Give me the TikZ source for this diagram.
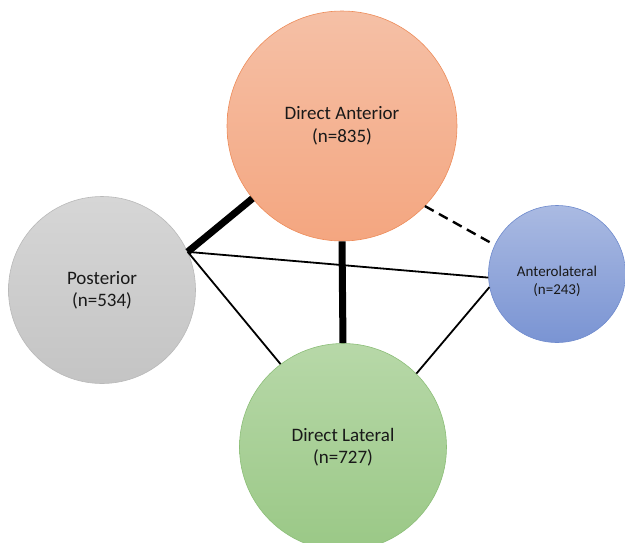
\documentclass[tikz,border=0pt]{standalone}
\usepackage{fontspec}
\setmainfont{Carlito}
\definecolor{antTop}{RGB}{245,192,166}
\definecolor{antBot}{RGB}{244,166,128}
\definecolor{antLine}{RGB}{237,140,90}
\definecolor{postTop}{RGB}{214,214,214}
\definecolor{postBot}{RGB}{196,196,196}
\definecolor{postLine}{RGB}{185,185,185}
\definecolor{alTop}{RGB}{170,186,226}
\definecolor{alBot}{RGB}{122,148,211}
\definecolor{alLine}{RGB}{110,138,205}
\definecolor{latTop}{RGB}{183,216,168}
\definecolor{latBot}{RGB}{154,200,134}
\definecolor{latLine}{RGB}{140,190,120}
\tikzset{
  bubble/.style={circle, inner sep=0pt, align=center, text=black!90, line width=0.6pt},
  thickedge/.style={line width=7pt, black},
  thinedge/.style={line width=1.8pt, black},
  dashedge/.style={line width=2.4pt, black, dashed, dash pattern=on 10pt off 6pt}
}
\begin{document}
\begin{tikzpicture}[x=1pt,y=-1pt]
\useasboundingbox (0,0) rectangle (625,542);
\clip (0,0) rectangle (625,542);
\node[bubble, minimum size=230pt, draw=antLine, top color=antTop, bottom color=antBot, font=\fontsize{19}{23}\selectfont] (ant) at (342,126) {Direct Anterior\\(n=835)};
\node[bubble, minimum size=187pt, draw=postLine, top color=postTop, bottom color=postBot, font=\fontsize{19}{22}\selectfont] (post) at (102,290) {Posterior\\(n=534)};
\node[bubble, minimum size=137pt, draw=alLine, top color=alTop, bottom color=alBot] (al) at (557,274) {};
\node[align=center, text=black!90, inner sep=0pt, font=\fontsize{15}{18}\selectfont] (altext) at ([yshift=-7pt]al.center) {Anterolateral\\(n=243)};
\node[bubble, minimum size=207pt, draw=latLine, top color=latTop, bottom color=latBot, font=\fontsize{19}{22}\selectfont] (lat) at (343,447) {Direct Lateral\\(n=727)};
\draw[thickedge] (post.24) -- (ant.219);
\draw[thickedge] (ant.270) -- (lat.90);
\draw[dashedge] (ant.316) -- (al.155);
\draw[thinedge] (post.24) -- (al.183);
\draw[thinedge] (post.24) -- (lat.127);
\draw[thinedge] (al.191) -- (lat.45);
\end{tikzpicture}
\end{document}
